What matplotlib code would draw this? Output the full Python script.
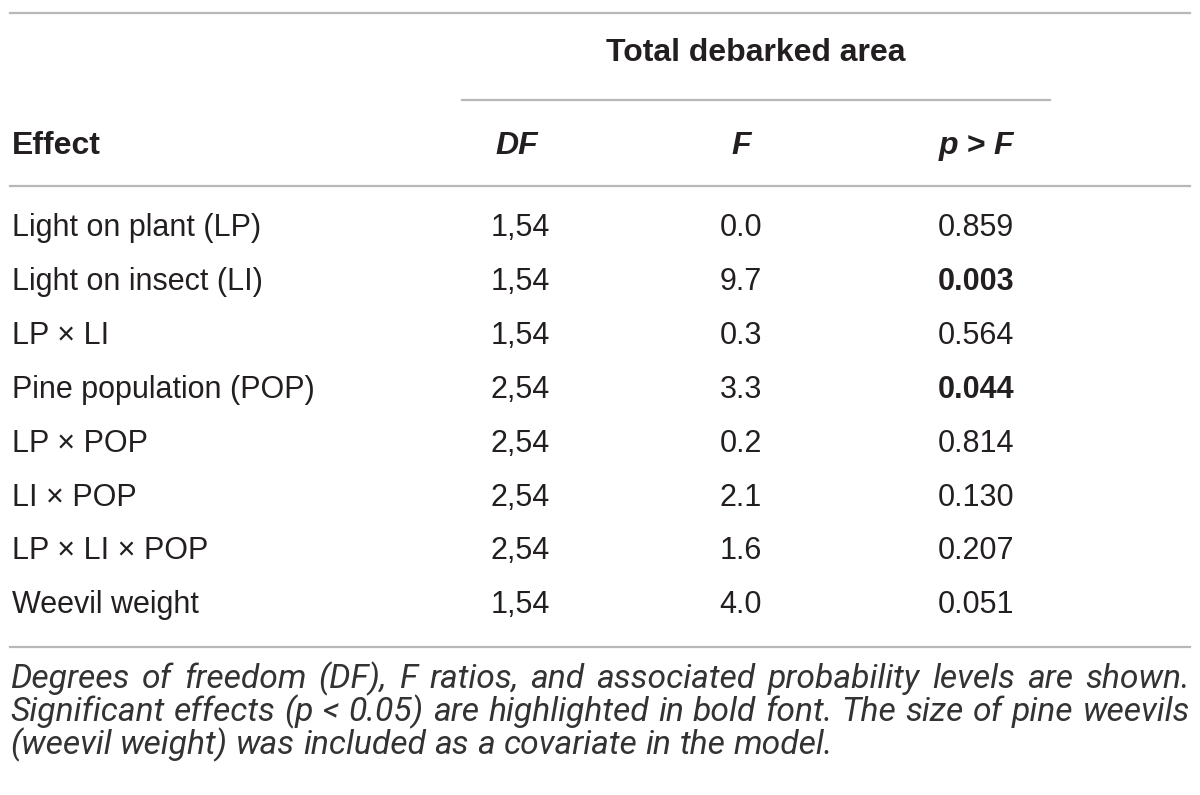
import matplotlib
matplotlib.use("Agg")
import matplotlib.pyplot as plt
from matplotlib import font_manager

effects = ["Light on plant (LP)", "Light on insect (LI)", "LP \u00d7 LI", "Pine population (POP)",
           "LP \u00d7 POP", "LI \u00d7 POP", "LP \u00d7 LI \u00d7 POP", "Weevil weight"]
df_vals = ["1,54", "1,54", "1,54", "2,54", "2,54", "2,54", "2,54", "1,54"]
f_vals = ["0.0", "9.7", "0.3", "3.3", "0.2", "2.1", "1.6", "4.0"]
p_vals = ["0.859", "0.003", "0.564", "0.044", "0.814", "0.130", "0.207", "0.051"]
group_title = "Total debarked area"
col_headers = ["Effect", "DF", "F", "p > F"]
caption_lines = [
    "Degrees of freedom (DF), F ratios, and associated probability levels are shown.",
    "Significant effects (p < 0.05) are highlighted in bold font. The size of pine weevils",
    "(weevil weight) was included as a covariate in the model.",
]

family = "Liberation Sans"
names = {f.name for f in font_manager.fontManager.ttflist}
cap_family = "Roboto" if "Roboto" in names else family

W, H = 1200, 795
fig = plt.figure(figsize=(W / 100, H / 100), dpi=100)
ax = fig.add_axes([0, 0, 1, 1])
ax.set_xlim(0, W)
ax.set_ylim(H, 0)
ax.axis("off")

txt = "#231f20"
cap_c = "#333333"
line_c = "#b8b8b8"
fs = 22
hfs = 23

# rules
ax.plot([10, 1190], [13, 13], color=line_c, lw=1.6)
ax.plot([462, 1050], [100, 100], color=line_c, lw=1.6)
ax.plot([10, 1190], [186, 186], color=line_c, lw=1.6)
ax.plot([10, 1190], [647, 647], color=line_c, lw=1.6)

ax.text(756, 53, group_title, ha="center", va="center", fontsize=hfs, fontweight="bold",
        family=family, color=txt)

col_x = [12, 517, 741, 976]
hy = 146
ax.text(col_x[0], hy, col_headers[0], ha="left", va="center", fontsize=hfs, fontweight="bold",
        family=family, color=txt)
for i in range(1, 4):
    ax.text(col_x[i], hy, col_headers[i], ha="center", va="center", fontsize=hfs, fontweight="bold",
            style="italic", family=family, color=txt)

y0, dy = 228, 53.9
for r in range(len(effects)):
    y = y0 + r * dy
    ax.text(col_x[0], y, effects[r], ha="left", va="center", fontsize=fs, family=family, color=txt)
    ax.text(col_x[1] + 3, y, df_vals[r], ha="center", va="center", fontsize=fs, family=family, color=txt)
    ax.text(col_x[2], y, f_vals[r], ha="center", va="center", fontsize=fs, family=family, color=txt)
    bold = float(p_vals[r]) < 0.05
    ax.text(col_x[3], y, p_vals[r], ha="center", va="center", fontsize=fs, family=family, color=txt,
            fontweight="bold" if bold else "normal")

# justified caption
renderer = fig.canvas.get_renderer()
cap_y = [679, 712, 745]
left, right = 10, 1190
cap_kw = dict(style="italic", family=cap_family, fontweight="normal")


def measure(s, size):
    t = ax.text(0, 0, s, fontsize=size, **cap_kw)
    w = t.get_window_extent(renderer=renderer).width
    t.remove()
    return w


cap_fs = 26.0
while measure(caption_lines[1], cap_fs) > (right - left) - 4 and cap_fs > 14:
    cap_fs -= 0.25

space_w = measure("a a", cap_fs) - measure("aa", cap_fs)
for li, line in enumerate(caption_lines):
    words = line.split(" ")
    widths = [measure(w, cap_fs) for w in words]
    total = sum(widths)
    if li < len(caption_lines) - 1:
        gap = (right - left - total) / (len(words) - 1)
    else:
        gap = space_w
    x = left
    for w, wd in zip(words, widths):
        ax.text(x, cap_y[li], w, ha="left", va="center", fontsize=cap_fs, color=cap_c, **cap_kw)
        x += wd + gap

fig.savefig("out.png", dpi=100, facecolor="white")
